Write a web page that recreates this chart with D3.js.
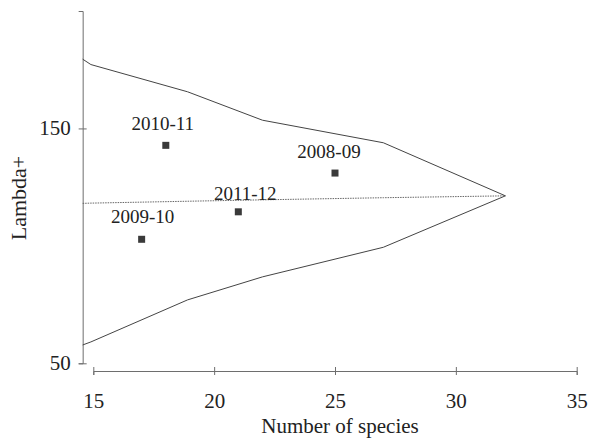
<!DOCTYPE html>
<html>
<head>
<meta charset="utf-8">
<script src="https://cdn.jsdelivr.net/npm/d3@7"></script>
<style>
  body { margin: 0; background: #fff; }
  svg { display: block; }
  svg text { font-family: "Liberation Serif", "Times New Roman", serif; }
</style>
</head>
<body>
<svg id="chart"></svg>
<script>
// observed seasons
const seasons = ['2008-09', '2009-10', '2010-11', '2011-12'];
const speciesCount = [25, 17, 18, 21];
const lambdaPlus = [131, 102.8, 142.8, 114.5];

// funnel (expected mean and limits)
const funnelSpecies = [14.56, 14.9, 18.9, 22, 27, 32.05];
const upperLimit = [179.5, 177.2, 165.6, 153.5, 143.9, 121.3];
const lowerLimit = [57.8, 59.1, 77, 86.8, 99.4, 121.3];
const expectedMean = [118.1, 118.2, 119, 119.6, 120.5, 121.3];

const xTicks = [15, 20, 25, 30, 35];
const yTicks = [50, 150];

const width = 591;
const height = 441;

const x = d3.scaleLinear().domain([15, 35]).range([93.3, 576.7]);
const y = d3.scaleLinear().domain([50, 200]).range([363.3, 11]);
const yAxisAt = funnelSpecies[0];
const xAxisY = 371;

const svg = d3.select('#chart').attr('width', width).attr('height', height);

// y axis
const gy = svg.append('g')
  .attr('transform', `translate(${x(yAxisAt)},0)`)
  .call(d3.axisLeft(y).tickValues(yTicks).tickSizeOuter(0).tickSize(4).tickPadding(8))
  .attr('font-size', 21);
gy.select('.domain').attr('stroke', '#6e6e6e');
gy.selectAll('.tick line').attr('x1', 4).attr('x2', -4).attr('stroke', '#6e6e6e');
gy.selectAll('.tick text').attr('fill', '#222').attr('dy', '0.3em');

// x axis
const gx = svg.append('g')
  .attr('transform', `translate(0,${xAxisY})`)
  .call(d3.axisBottom(x).tickValues(xTicks).tickSizeOuter(0).tickSize(4).tickPadding(18))
  .attr('font-size', 21);
gx.select('.domain').attr('stroke', '#6e6e6e');
gx.selectAll('.tick line').attr('y1', -4).attr('y2', 4).attr('stroke', '#6e6e6e');
gx.selectAll('.tick text').attr('fill', '#222');

// funnel lines
const line = vals => d3.line()
  .x((d, i) => x(funnelSpecies[i]))
  .y(d => y(d))(vals);

svg.append('path').attr('d', line(upperLimit))
  .attr('fill', 'none').attr('stroke', '#444').attr('stroke-width', 1);
svg.append('path').attr('d', line(lowerLimit))
  .attr('fill', 'none').attr('stroke', '#444').attr('stroke-width', 1);
svg.append('path').attr('d', line(expectedMean))
  .attr('fill', 'none').attr('stroke', '#666').attr('stroke-width', 1)
  .attr('stroke-dasharray', '1.5,1');

// points
const s = 7;
svg.append('g')
  .selectAll('rect')
  .data(seasons)
  .join('rect')
  .attr('x', (d, i) => x(speciesCount[i]) - s / 2)
  .attr('y', (d, i) => y(lambdaPlus[i]) - s / 2)
  .attr('width', s)
  .attr('height', s)
  .attr('fill', '#3a3a3a');

// labels, nudged like the original
const nudge = {'2008-09': [-6, -15], '2009-10': [1, -16], '2010-11': [-3, -15], '2011-12': [7, -12]};
svg.append('g')
  .selectAll('text')
  .data(seasons)
  .join('text')
  .attr('x', (d, i) => x(speciesCount[i]) + nudge[d][0])
  .attr('y', (d, i) => y(lambdaPlus[i]) + nudge[d][1])
  .attr('text-anchor', 'middle')
  .attr('font-size', 19)
  .attr('fill', '#222')
  .text(d => d);

// axis titles
svg.append('text')
  .attr('x', 340).attr('y', 433)
  .attr('text-anchor', 'middle')
  .attr('font-size', 21)
  .attr('fill', '#222')
  .text('Number of species');

svg.append('text')
  .attr('transform', 'translate(26,198) rotate(-90)')
  .attr('text-anchor', 'middle')
  .attr('font-size', 22)
  .attr('fill', '#222')
  .text('Lambda+');
</script>
</body>
</html>
